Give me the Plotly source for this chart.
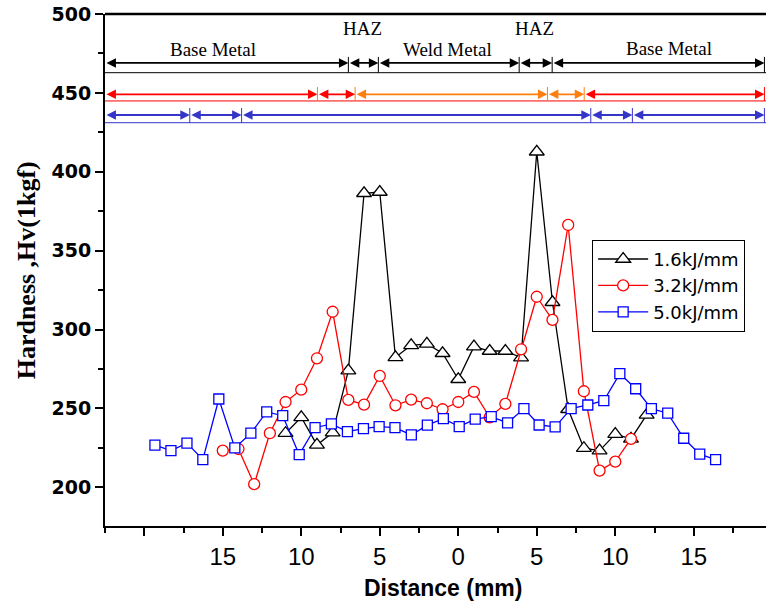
import plotly.graph_objects as go

# ---------------- data ----------------
x_16 = [-11, -10, -9, -8, -7, -6, -5, -4, -3, -2, -1, 0, 1, 2, 3, 4, 5, 6, 7, 8, 9, 10, 11, 12]
y_16 = [234.3, 244.4, 226.9, 234.7, 274.0, 386.4, 387.2, 282.4, 290.0, 290.9, 285.0, 268.5,
        289.2, 286.4, 286.4, 282.2, 412.7, 317.3, 249.5, 224.8, 223.3, 233.7, 230.7, 245.9]

x_32 = [-15, -14, -13, -12, -11, -10, -9, -8, -7, -6, -5, -4, -3, -2, -1, 0, 1, 2, 3, 4, 5, 6, 7, 8, 9, 10, 11]
y_32 = [223.3, 224.3, 202.0, 234.3, 254.1, 261.9, 281.8, 311.3, 255.4, 252.4, 270.6, 252.0, 255.6,
        253.3, 249.5, 254.1, 260.5, 244.4, 252.9, 287.5, 320.8, 306.1, 366.3, 260.9, 210.6, 216.3, 230.7]

x_50 = [-19.32, -18.3, -17.28, -16.27, -15.25, -14.23, -13.21, -12.2, -11.18, -10.13, -9.12, -8.08,
        -7.06, -6.04, -5.04, -4.03, -2.99, -1.97, -0.95, 0.06, 1.08, 2.1, 3.14, 4.18, 5.15, 6.17,
        7.19, 8.25, 9.27, 10.29, 11.3, 12.3, 13.34, 14.36, 15.38, 16.39]
y_50 = [226.7, 223.3, 228.0, 217.6, 256.0, 225.0, 234.3, 247.8, 245.4, 220.7, 237.8, 240.2,
        235.3, 237.2, 238.5, 237.8, 233.2, 239.4, 243.5, 238.5, 243.2, 244.8, 240.8, 249.9, 239.5, 238.3,
        249.9, 252.2, 254.9, 272.1, 262.5, 249.9, 247.0, 231.1, 221.0, 217.6]

series_names = ["1.6kJ/mm", "3.2kJ/mm", "5.0kJ/mm"]

x_tickvals = [-20, -15, -10, -5, 0, 5, 10, 15]
x_ticktext = ["", "15", "10", "5", "0", "5", "10", "15"]
x_minor = [-22.5, -17.5, -12.5, -7.5, -2.5, 2.5, 7.5, 12.5, 17.5]

# zone boundaries (mm) for the three heat inputs and the level (Hv) of each bar
zone_black = [-22.5, -7.0, -5.09, 3.88, 5.98, 19.5]
zone_red = [-22.5, -8.97, -6.57, 5.68, 8.02, 19.5]
zone_blue = [-22.5, -17.1, -13.8, 8.44, 11.09, 19.5]
zone_levels = [469.0, 449.1, 436.0]
zone_base_lines = [462.8, 444.9, 431.1]

zone_labels = ["Base Metal", "HAZ", "Weld Metal", "HAZ", "Base Metal"]
zone_label_x = [-15.65, -6.1, -0.7, 4.83, 13.4]
zone_label_y = [477.6, 490.7, 477.6, 490.7, 478.0]

X_RANGE = [-22.5, 19.6]
Y_RANGE = [175.5, 500]

# ---------------- figure ----------------
fig = go.Figure()

styles = [
    dict(color="black", symbol="triangle-up", size=13),
    dict(color="#ff0000", symbol="circle", size=11),
    dict(color="#0000ff", symbol="square", size=10),
]
for xs, ys, name, st in zip([x_16, x_32, x_50], [y_16, y_32, y_50], series_names, styles):
    fig.add_trace(go.Scatter(
        x=xs, y=ys, name=name, mode="lines+markers",
        line=dict(color=st["color"], width=1.3),
        marker=dict(symbol=st["symbol"], size=st["size"], color="white",
                    line=dict(color=st["color"], width=1.3)),
    ))

annotations = []
shapes = []

# top frame line
shapes.append(dict(type="line", xref="paper", yref="paper", x0=0, x1=1, y0=1, y1=1,
                   line=dict(color="black", width=2.5)))

def add_zone_bar(bounds, level, base, seg_colors, tick_colors, width, dy_up, dy_dn, base_color):
    # thin base line
    shapes.append(dict(type="line", xref="x", yref="y", x0=X_RANGE[0], x1=X_RANGE[1],
                       y0=base, y1=base, line=dict(color=base_color, width=1)))
    for i in range(len(bounds) - 1):
        annotations.append(dict(
            x=bounds[i + 1], y=level, ax=bounds[i], ay=level, xref="x", yref="y",
            axref="x", ayref="y", text="", showarrow=True, arrowside="end+start",
            arrowhead=2, startarrowhead=2, arrowsize=1.05, startarrowsize=1.05,
            arrowwidth=width, arrowcolor=seg_colors[i], standoff=0, startstandoff=0))
    for b, c in zip(bounds[1:], tick_colors):
        shapes.append(dict(type="line", xref="x", yref="y", x0=b, x1=b,
                           y0=level - dy_dn, y1=level + dy_up, line=dict(color=c, width=1)))

add_zone_bar(zone_black, zone_levels[0], zone_base_lines[0], ["black"] * 5, ["black"] * 5,
             1.8, 3.8, 6.2, "black")
add_zone_bar(zone_red, zone_levels[1], zone_base_lines[1],
             ["#ff0000", "#ff0000", "#ff7f0e", "#ff7f0e", "#ff0000"],
             ["#ff7f0e", "#ff7f0e", "#ff7f0e", "#ff7f0e", "#ff0000"],
             1.8, 4.6, 4.2, "#ff0000")
add_zone_bar(zone_blue, zone_levels[2], zone_base_lines[2], ["#3535c8"] * 5, ["#3535c8"] * 5,
             1.8, 4.4, 5.0, "#3535c8")

for t, xx, yy in zip(zone_labels, zone_label_x, zone_label_y):
    annotations.append(dict(x=xx, y=yy, xref="x", yref="y", text=t, showarrow=False,
                            font=dict(family="Liberation Serif", size=19, color="black")))

# axis titles
annotations.append(dict(x=-0.119, y=0.5, xref="paper", yref="paper", text="Hardness ,Hv(1kgf)",
                        textangle=-90, showarrow=False, xanchor="center", yanchor="middle",
                        font=dict(family="Liberation Serif", size=26, color="black", weight="bold")))
annotations.append(dict(x=0.511, y=-0.121, xref="paper", yref="paper", text="Distance (mm)",
                        showarrow=False, xanchor="center", yanchor="middle",
                        font=dict(family="Liberation Sans", size=23, color="black", weight="bold")))

fig.update_layout(
    width=766, height=603,
    margin=dict(l=105, r=0, t=14, b=77),
    paper_bgcolor="white", plot_bgcolor="white",
    showlegend=True,
    legend=dict(x=0.737, y=0.559, xanchor="left", yanchor="top",
                bordercolor="black", borderwidth=1, bgcolor="white",
                font=dict(family="DejaVu Sans", size=18, color="black"),
                itemwidth=50, tracegroupgap=0),
    annotations=annotations, shapes=shapes,
    xaxis=dict(range=X_RANGE, showgrid=False, zeroline=False, showline=True,
               linecolor="black", linewidth=2, ticks="outside", ticklen=8, tickwidth=2,
               tickcolor="black", tickmode="array", tickvals=x_tickvals, ticktext=x_ticktext,
               tickfont=dict(family="Liberation Sans", size=24, color="black"),
               minor=dict(tickmode="array", tickvals=x_minor, ticks="outside", ticklen=5,
                          tickwidth=2, tickcolor="black")),
    yaxis=dict(range=Y_RANGE, showgrid=False, zeroline=False, showline=True,
               linecolor="black", linewidth=2, ticks="outside", ticklen=8, tickwidth=2,
               tickcolor="black", tickmode="linear", tick0=200, dtick=50,
               tickfont=dict(family="DejaVu Sans", size=19, color="black", weight="bold"),
               minor=dict(tickmode="linear", tick0=225, dtick=50, ticks="outside", ticklen=5,
                          tickwidth=2, tickcolor="black")),
)

fig.write_html("out.html")
